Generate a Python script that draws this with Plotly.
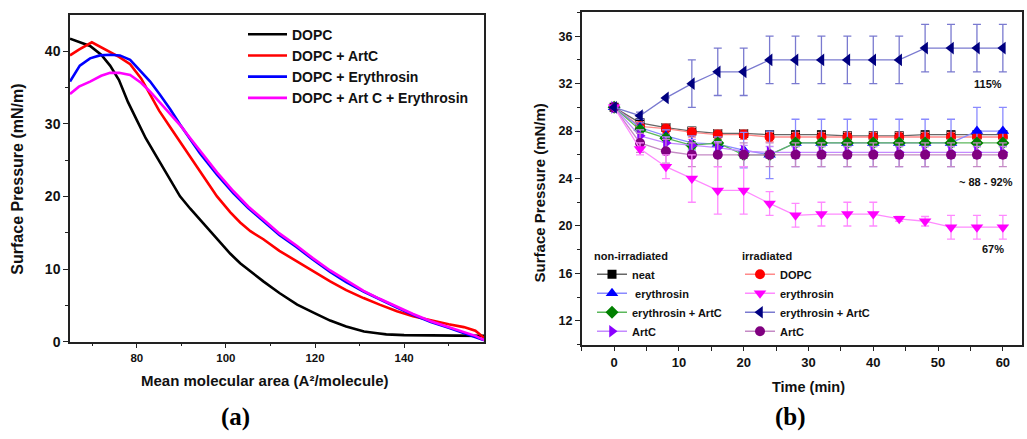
import plotly.graph_objects as go

W, H = 1027, 439

# ---------------- Panel (a): isotherms ----------------
area_dopc = [65, 67, 69.5, 72, 74, 76, 78, 80, 82, 84.5, 87, 89.7, 92, 94.2, 96.5, 98.7, 101, 103.2, 106, 108.4,
             112, 116, 120, 123.4, 127, 131, 134, 136, 140, 146, 152, 158]
pi_dopc = [41.7, 41.3, 40.7, 39.5, 38, 36, 33, 30.5, 28, 25.4, 22.8, 20, 18.3, 16.8, 15.2, 13.7, 12.1, 10.8, 9.4, 8.3,
           6.7, 5.1, 3.9, 2.9, 2.1, 1.4, 1.15, 1.0, 0.9, 0.85, 0.85, 0.8]

area_artc = [65, 67, 69.9, 72, 74, 76, 78.5, 81, 83, 85, 87.5, 90, 92.7, 95.7, 98, 101, 103.2, 105.5, 108.4, 112,
             116, 120, 123.4, 127, 130.9, 134.5, 138.4, 142, 146, 150, 153.4, 156, 158]
pi_artc = [39.4, 40.2, 41.2, 40.5, 39.8, 39.2, 38.2, 36.2, 34, 31.8, 29.5, 27.2, 24.8, 22, 20, 17.8, 16.4, 15.2, 14.1,
           12.5, 11, 9.6, 8.3, 7.1, 6.0, 5.1, 4.2, 3.5, 2.9, 2.4, 2.0, 1.5, 0.5]

area_ery = [65, 67.2, 69.5, 71.7, 74, 76.2, 78.5, 80.7, 83, 85.2, 87.5, 89.7, 92, 94.2, 98, 101.7, 105, 108.4, 112,
            115.9, 119.5, 123.4, 127, 130.9, 134.5, 138.4, 142, 146, 150, 153.4, 156, 158]
pi_ery = [35.8, 38, 39, 39.4, 39.5, 39.4, 38.8, 37.3, 35.8, 34, 32, 29.9, 27.9, 25.9, 23, 20.4, 18.4, 16.6, 14.7,
          13, 11.3, 9.6, 8.2, 6.9, 5.8, 4.7, 3.7, 2.7, 1.9, 1.2, 0.7, 0.2]

area_artc_ery = [65, 67, 69.5, 72, 74, 76, 78.5, 81, 83, 85, 87.5, 90, 92, 94.2, 98, 101.7, 105, 108.4, 112, 115.9,
                 119.5, 123.4, 127, 130.9, 134.5, 138.4, 142, 146, 150, 153.4, 156, 158]
pi_artc_ery = [34.1, 35.1, 35.8, 36.6, 37, 37, 36.7, 35.6, 34.4, 33, 31.3, 29.6, 28, 26.3, 23.3, 20.7, 18.6, 16.8,
               14.9, 13.2, 11.5, 9.8, 8.4, 7.0, 5.9, 4.8, 3.8, 2.8, 2.0, 1.3, 0.8, 0.2]

iso_names = ["DOPC", "DOPC + ArtC", "DOPC + Erythrosin", "DOPC + Art C + Erythrosin"]

# ---------------- Panel (b): kinetics ----------------
time_min = [0, 4, 8, 12, 16, 20, 24, 28, 32, 36, 40, 44, 48, 52, 56, 60]

ni_neat = [30, 28.7, 28.3, 28.0, 27.8, 27.8, 27.7, 27.7, 27.7, 27.6, 27.6, 27.6, 27.7, 27.7, 27.7, 27.7]
ni_neat_err = [0, 0.3, 0.3, 0.3, 0.3, 0.3, 0.3, 0.3, 0.3, 0.3, 0.3, 0.3, 0.3, 0.3, 0.3, 0.3]
ni_ery = [30, 28.3, 27.6, 27.0, 26.9, 26.4, 26.0, 27, 27, 27, 27, 27, 27, 27, 28, 28]
ni_ery_err = [0, 0.4, 0.5, 0.6, 0.6, 1.5, 2, 2, 2, 2, 2, 2, 2, 2, 2, 2]
ni_ery_artc = [30, 28.1, 27.4, 26.8, 27.0, 26.0, 26.0, 27, 27, 27, 27, 27, 27, 27, 27, 27]
ni_ery_artc_err = [0, 0.3, 0.3, 0.3, 0.3, 0.3, 0.3, 0.3, 0.3, 0.3, 0.3, 0.3, 0.3, 0.3, 0.3, 0.3]
ni_artc = [30, 27.6, 27.0, 26.8, 26.6, 26.3, 26.2, 26.2, 26.2, 26.2, 26.2, 26.2, 26.2, 26.2, 26.2, 26.2]
ni_artc_err = [0, 0.5, 0.5, 0.5, 0.5, 0.5, 0.5, 0.5, 0.5, 0.5, 0.5, 0.5, 0.5, 0.5, 0.5, 0.5]

ir_dopc = [30, 28.4, 28.2, 27.9, 27.7, 27.7, 27.5, 27.5, 27.5, 27.5, 27.5, 27.5, 27.5, 27.5, 27.5, 27.5]
ir_dopc_err = [0, 0.4, 0.4, 0.4, 0.4, 0.4, 0.4, 0.4, 0.4, 0.4, 0.4, 0.4, 0.4, 0.4, 0.4, 0.4]
ir_ery = [30, 26.5, 25.0, 24.0, 23.0, 23.0, 21.9, 20.9, 21.0, 21.0, 21.0, 20.6, 20.4, 19.9, 19.9, 19.9]
ir_ery_err = [0, 0.5, 1, 2, 2, 2, 1, 1, 1, 1, 1, 0.2, 0.4, 1, 1, 1]
ir_ery_artc = [30, 29.3, 30.8, 32.0, 33.0, 33.0, 34.0, 34.0, 34.0, 34.0, 34.0, 34.0, 35.0, 35.0, 35.0, 35.0]
ir_ery_artc_err = [0, 0.3, 0, 2, 2, 2, 2, 2, 2, 2, 2, 2, 2, 2, 2, 2]
ir_artc = [30, 27.0, 26.3, 26.0, 26.0, 26.0, 26.0, 26.0, 26.0, 26.0, 26.0, 26.0, 26.0, 26.0, 26.0, 26.0]
ir_artc_err = [0, 0.8, 1, 1, 1, 1, 1, 1, 1, 1, 1, 1, 1, 1, 1, 1]

annot_texts = ["115%", "~ 88 - 92%", "67%"]

SANS = "Liberation Sans, Arial, sans-serif"
SERIF = "Liberation Serif, Times New Roman, serif"
AX = "#222222"

fig = go.Figure()

iso_sets = [(area_dopc, pi_dopc, "#000000"), (area_artc, pi_artc, "#ff0000"),
            (area_ery, pi_ery, "#0000ff"), (area_artc_ery, pi_artc_ery, "#ff00ff")]
for (ax_, py_, col), nm in zip(iso_sets, iso_names):
    fig.add_trace(go.Scatter(x=ax_, y=py_, mode="lines", name=nm, line=dict(color=col, width=2.6),
                             xaxis="x", yaxis="y", legend="legend3"))

kin = [
    # data, err, name, marker color, line color, symbol, size, legend, rank
    (ni_neat, ni_neat_err, "neat", "#000000", "#666666", "square", 9, "legend", 1),
    (ir_dopc, ir_dopc_err, "DOPC", "#ff0000", "#ff8a8a", "circle", 10, "legend2", 1),
    (ni_ery, ni_ery_err, "\u00a0erythrosin", "#0000ff", "#8a8aff", "triangle-up", 11, "legend", 2),
    (ni_ery_artc, ni_ery_artc_err, "erythrosin + ArtC", "#008000", "#5cb85c", "diamond", 10, "legend", 3),
    (ni_artc, ni_artc_err, "ArtC", "#8a00ff", "#c48aff", "triangle-right", 11, "legend", 4),
    (ir_artc, ir_artc_err, "ArtC", "#800080", "#c58ac5", "circle", 10, "legend2", 4),
    (ir_ery, ir_ery_err, "erythrosin", "#ff00ff", "#ff8aff", "triangle-down", 11, "legend2", 2),
    (ir_ery_artc, ir_ery_artc_err, "erythrosin + ArtC", "#000080", "#7a7ad0", "triangle-left", 11, "legend2", 3),
]
for vals, errs, nm, mc, lc, sym, sz, lg, rk in kin:
    fig.add_trace(go.Scatter(
        x=time_min, y=vals, mode="lines+markers", name=nm,
        line=dict(color=lc, width=1.3),
        marker=dict(symbol=sym, size=sz, color=mc, line=dict(width=0)),
        error_y=dict(type="data", array=errs, visible=True, color=lc, thickness=1.3, width=4),
        xaxis="x2", yaxis="y2", legend=lg, legendrank=rk))

def px_x(p):
    return p / W

def px_y(p):
    return 1 - p / H

common = dict(showline=True, linecolor=AX, linewidth=1.5, mirror=True, ticks="outside", ticklen=5,
              tickwidth=1.3, tickcolor=AX, showgrid=False, zeroline=False)

fig.update_layout(
    width=W, height=H, margin=dict(l=0, r=0, t=0, b=0),
    paper_bgcolor="white", plot_bgcolor="white",
    font=dict(family=SANS, color="#111111"),
    xaxis=dict(domain=[px_x(70), px_x(484.3)], range=[65, 158], tickvals=[80, 100, 120, 140],
               minor=dict(ticks="outside", ticklen=3, tickcolor=AX, tickvals=[70, 90, 110, 130, 150]),
               tickfont=dict(size=11.5, weight="bold", family=SANS), anchor="y", **common),
    yaxis=dict(domain=[1 - 348 / H, 1 - 15 / H], range=[0, 45], tickvals=[0, 10, 20, 30, 40],
               minor=dict(ticks="outside", ticklen=3, tickcolor=AX, tickvals=[5, 15, 25, 35]),
               tickfont=dict(size=14, weight="bold", family=SANS), anchor="x", **common),
    xaxis2=dict(domain=[px_x(581.7), px_x(1022.3)], range=[-5, 63], dtick=10, tick0=0,
                minor=dict(ticks="outside", ticklen=5, tickcolor=AX, dtick=5, tick0=0),
                tickfont=dict(size=13, weight="bold", family=SANS), anchor="y2", **common),
    yaxis2=dict(domain=[1 - 351 / H, 1 - 12.7 / H], range=[10, 38], dtick=4, tick0=0,
                minor=dict(ticks="outside", ticklen=3, tickcolor=AX, dtick=2, tick0=0),
                tickfont=dict(size=12.5, weight="bold", family=SANS), anchor="x2", **common),
    legend3=dict(x=px_x(243), y=px_y(19), xanchor="left", yanchor="top", bgcolor="rgba(0,0,0,0)",
                 font=dict(size=14, weight="bold", family=SANS), itemwidth=39, tracegroupgap=0),
    legend=dict(x=px_x(592), y=px_y(250), xanchor="left", yanchor="top", bgcolor="rgba(0,0,0,0)",
                font=dict(size=11, weight="bold", family=SANS), itemwidth=30,
                title=dict(text="non-irradiated", font=dict(size=11, weight="bold", family=SANS))),
    legend2=dict(x=px_x(740), y=px_y(250), xanchor="left", yanchor="top", bgcolor="rgba(0,0,0,0)",
                 font=dict(size=11, weight="bold", family=SANS), itemwidth=30,
                 title=dict(text="irradiated", font=dict(size=11, weight="bold", family=SANS))),
    showlegend=True,
)

ann = [
    dict(text="Surface Pressure (mN/m)", x=px_x(18), y=px_y(183), textangle=-90, font=dict(size=16, weight="bold")),
    dict(text="Mean molecular area (A²/molecule)", x=px_x(265), y=px_y(388), font=dict(size=15, weight="bold")),
    dict(text="Surface Pressure (mN/m)", x=px_x(539), y=px_y(197), textangle=-90, font=dict(size=15, weight="bold")),
    dict(text="Time (min)", x=px_x(808), y=px_y(394), font=dict(size=14.5, weight="bold")),
    dict(text="(a)", x=px_x(235), y=px_y(425), font=dict(size=25, weight="bold", family=SERIF, color="#000")),
    dict(text="(b)", x=px_x(790), y=px_y(425), font=dict(size=25, weight="bold", family=SERIF, color="#000")),
    dict(text=annot_texts[0], x=px_x(988), y=px_y(86), font=dict(size=11, weight="bold")),
    dict(text=annot_texts[1], x=px_x(986), y=px_y(185), font=dict(size=11, weight="bold")),
    dict(text=annot_texts[2], x=px_x(993), y=px_y(254), font=dict(size=11, weight="bold")),
]
for a in ann:
    a.update(xref="paper", yref="paper", showarrow=False, xanchor="center", yanchor="middle")
fig.update_layout(annotations=ann)

fig.write_html("out.html", config={"displayModeBar": False},
               post_script="document.body.style.margin='0';document.body.style.overflow='hidden';")
